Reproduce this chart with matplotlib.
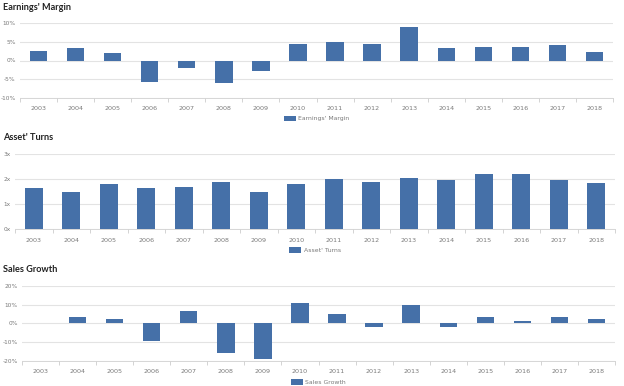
import numpy as np
import matplotlib
matplotlib.use('Agg')
import matplotlib.pyplot as plt
from matplotlib.ticker import FuncFormatter

years = [str(y) for y in range(2003, 2019)]
earnings_margin = [2.5, 3.3, 2.0, -5.8, -2.1, -6.0, -2.9, 4.5, 4.9, 4.5, 9.1, 3.4, 3.75, 3.6, 4.3, 2.3]
asset_turns = [1.67, 1.49, 1.80, 1.67, 1.71, 1.91, 1.49, 1.81, 2.03, 1.88, 2.05, 1.97, 2.23, 2.23, 1.96, 1.84]
sales_growth = [0.0, 3.5, 2.5, -9.2, 6.4, -15.8, -18.9, 10.6, 4.8, -1.8, 9.7, -2.1, 3.5, 1.2, 3.2, 2.3]

W, H = 624, 386
bar_color = '#4570a8'
grid_color = '#e3e3e3'
text_color = '#7a7a7a'

fig = plt.figure(figsize=(W / 100, H / 100), dpi=100)
fig.patch.set_facecolor('white')


def panel(title, title_y, box, values, ylim, yticks, fmt, label):
    left, right, top, bottom = box
    ax = fig.add_axes([left / W, 1 - bottom / H, (right - left) / W, (bottom - top) / H])
    x = np.arange(len(years))
    ax.bar(x, values, width=0.47, color=bar_color, zorder=3, label=label)
    ax.set_xlim(-0.5, len(years) - 0.5)
    ax.set_ylim(*ylim)
    ax.set_yticks(yticks)
    ax.yaxis.set_major_formatter(FuncFormatter(fmt))
    ax.set_xticks(x)
    ax.set_xticklabels(years)
    ax.set_xticks(np.arange(len(years) + 1) - 0.5, minor=True)
    ax.tick_params(axis='x', which='major', length=0, labelsize=4.6, labelcolor=text_color, pad=6)
    ax.tick_params(axis='x', which='minor', length=3, color='#cccccc', width=0.6)
    ax.tick_params(axis='y', length=0, labelsize=4.2, labelcolor=text_color, pad=3)
    ax.grid(axis='y', color=grid_color, linewidth=0.8, zorder=0)
    for s in ['top', 'right', 'left']:
        ax.spines[s].set_visible(False)
    ax.spines['bottom'].set_color('#d0d0d0')
    ax.spines['bottom'].set_linewidth(0.6)
    ax.legend(loc='upper center', bbox_to_anchor=(0.5, -0.2), frameon=False,
              fontsize=4.4, labelcolor=text_color, handlelength=2.0, handleheight=1.0,
              handletextpad=0.4, borderpad=0)
    fig.text(3 / W, 1 - title_y / H, title, fontsize=6.6, fontweight='bold',
             family=['Lato', 'DejaVu Sans'], color='#222222', va='center', ha='left')
    return ax


panel("Earnings' Margin", 7, (20, 613, 23.3, 97.7), earnings_margin,
      (-10, 10), [-10, -5, 0, 5, 10], lambda v, p: f'{v:.0f}%', "Earnings' Margin")
panel("Asset' Turns", 138, (15, 615, 154.3, 229.3), asset_turns,
      (0, 3), [0, 1, 2, 3], lambda v, p: f'{v:.0f}x', "Asset' Turns")
panel("Sales Growth", 269, (22, 615, 285.7, 361), sales_growth,
      (-20, 20), [-20, -10, 0, 10, 20], lambda v, p: f'{v:.0f}%', "Sales Growth")

fig.savefig('out.png', dpi=100, facecolor='white')
